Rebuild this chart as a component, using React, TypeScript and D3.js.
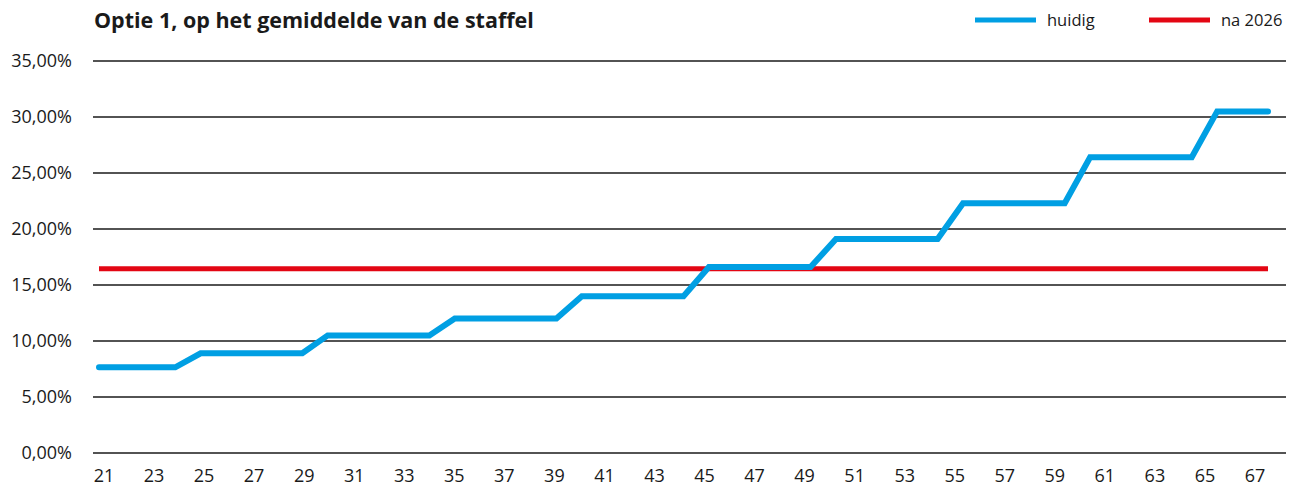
import * as d3 from "d3";
import { useEffect, useRef } from "react";

const WIDTH = 1303;
const HEIGHT = 492;

// ages 21..67
const AGES = d3.range(21, 68);
// staffel levels per age band (lower bound of band, value in %)
const BAND_STARTS = [21, 25, 30, 35, 40, 45, 50, 55, 60, 65];
const HUIDIG_LEVELS = [7.65, 8.9, 10.5, 12.0, 14.0, 16.6, 19.1, 22.3, 26.4, 30.5];
const NA_2026 = 16.45;
const Y_TICKS = [0, 5, 10, 15, 20, 25, 30, 35];
const X_LABELS = d3.range(21, 68, 2);

const BLUE = "#009fe3";
const RED = "#e30613";
const FONT = "'Open Sans', 'Noto Sans', sans-serif";

const nl = d3.formatLocale({ decimal: ",", thousands: ".", grouping: [3], currency: ["€", ""] });
const pct = (v: number) => nl.format(".2f")(v) + "%";

const huidigFor = (age: number) => {
  let idx = 0;
  BAND_STARTS.forEach((s, i) => {
    if (age >= s) idx = i;
  });
  return HUIDIG_LEVELS[idx];
};

export default function App() {
  const ref = useRef<SVGSVGElement>(null);

  useEffect(() => {
    const svg = d3.select(ref.current);
    svg.selectAll("*").remove();

    const gridLeft = 93;
    const gridRight = 1286;
    const y = d3.scaleLinear().domain([0, 35]).range([453, 61]);
    // data points
    const x = d3.scaleLinear().domain([21, 67]).range([99, 1268]);
    // category labels sit slightly differently than the plotted points
    const xLab = d3.scaleLinear().domain([21, 67]).range([104, 1255]);

    // gridlines
    svg
      .append("g")
      .selectAll("line")
      .data(Y_TICKS)
      .join("line")
      .attr("x1", gridLeft)
      .attr("x2", gridRight)
      .attr("y1", (d) => y(d))
      .attr("y2", (d) => y(d))
      .attr("stroke", "#1a1a1a")
      .attr("stroke-width", 1.5);

    // y labels
    svg
      .append("g")
      .selectAll("text")
      .data(Y_TICKS)
      .join("text")
      .attr("x", 72)
      .attr("y", (d) => y(d))
      .attr("dy", "0.35em")
      .attr("text-anchor", "end")
      .attr("font-family", FONT)
      .attr("font-size", 18)
      .attr("fill", "#1a1a1a")
      .text((d) => pct(d));

    // x labels
    svg
      .append("g")
      .selectAll("text")
      .data(X_LABELS)
      .join("text")
      .attr("x", (d) => xLab(d))
      .attr("y", 482)
      .attr("text-anchor", "middle")
      .attr("font-family", FONT)
      .attr("font-size", 18)
      .attr("fill", "#1a1a1a")
      .text((d) => String(d));

    const line = d3
      .line<{ age: number; v: number }>()
      .x((d) => x(d.age))
      .y((d) => y(d.v));

    // red line
    svg
      .append("path")
      .datum(AGES.map((a) => ({ age: a, v: NA_2026 })))
      .attr("d", line)
      .attr("fill", "none")
      .attr("stroke", RED)
      .attr("stroke-width", 5);

    // blue line
    svg
      .append("path")
      .datum(AGES.map((a) => ({ age: a, v: huidigFor(a) })))
      .attr("d", line)
      .attr("fill", "none")
      .attr("stroke", BLUE)
      .attr("stroke-width", 6)
      .attr("stroke-linecap", "round")
      .attr("stroke-linejoin", "miter");

    // title
    svg
      .append("text")
      .attr("x", 94)
      .attr("y", 28)
      .attr("font-family", FONT)
      .attr("font-weight", 700)
      .attr("font-size", 21.5)
      .attr("fill", "#1a1a1a")
      .text("Optie 1, op het gemiddelde van de staffel");

    // legend
    const legend = [
      { label: "huidig", color: BLUE, x: 975 },
      { label: "na 2026", color: RED, x: 1149 },
    ];
    const lg = svg.append("g").selectAll("g").data(legend).join("g");
    lg.append("line")
      .attr("x1", (d) => d.x)
      .attr("x2", (d) => d.x + 61)
      .attr("y1", 20)
      .attr("y2", 20)
      .attr("stroke", (d) => d.color)
      .attr("stroke-width", 5);
    lg.append("text")
      .attr("x", (d) => d.x + 72)
      .attr("y", 20)
      .attr("dy", "0.35em")
      .attr("font-family", FONT)
      .attr("font-size", 16.5)
      .attr("fill", "#1a1a1a")
      .text((d) => d.label);
  }, []);

  return (
    <svg
      ref={ref}
      width={WIDTH}
      height={HEIGHT}
      style={{ position: "absolute", left: 0, top: 0, background: "#fff" }}
    />
  );
}
